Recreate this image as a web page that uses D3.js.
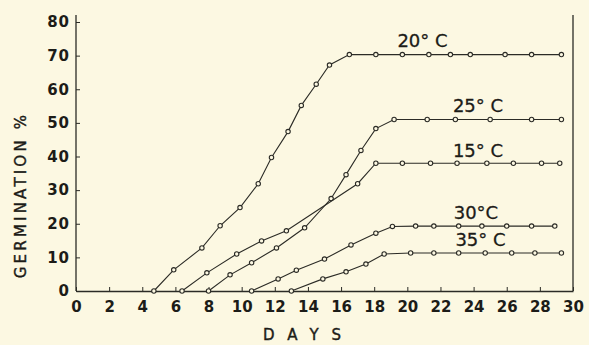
<!DOCTYPE html>
<html>
<head>
<meta charset="utf-8">
<script src="https://cdn.jsdelivr.net/npm/d3@7"></script>
<style>
  body { margin: 0; background: #fcf8e2; }
  svg { display: block; font-family: 'DejaVu Sans', sans-serif; }
</style>
</head>
<body>
<div id="chart"></div>
<script>
// Germination % against days, one series per temperature
const days20 = [4.7, 5.9, 7.6, 8.7, 9.9, 11.0, 11.8, 12.8, 13.6, 14.5, 15.3, 16.5, 18.1, 19.7, 21.3, 22.6, 23.8, 25.9, 27.5, 29.3];
const germ20 = [0, 6.3, 12.8, 19.4, 24.8, 31.9, 39.7, 47.4, 55.2, 61.5, 67.2, 70.3, 70.3, 70.3, 70.3, 70.3, 70.3, 70.3, 70.3, 70.3];

const days25 = [8.0, 9.3, 10.6, 12.1, 13.8, 15.4, 16.3, 17.2, 18.1, 19.2, 21.2, 22.9, 25.0, 27.5, 29.3];
const germ25 = [0, 4.8, 8.4, 12.8, 18.8, 27.5, 34.6, 41.8, 48.3, 51, 51, 51, 51, 51, 51];

const days15 = [6.4, 7.9, 9.7, 11.2, 12.7, 17.0, 18.1, 19.7, 21.4, 23.0, 24.8, 26.4, 28.1, 29.2];
const germ15 = [0, 5.4, 11, 14.9, 17.9, 31.9, 38, 38, 38, 38, 38, 38, 38, 38];

const days30 = [10.6, 12.2, 13.3, 15.0, 16.6, 18.1, 19.1, 20.5, 21.6, 23.1, 24.5, 26.0, 27.5, 28.9];
const germ30 = [0, 3.6, 6.2, 9.5, 13.7, 17.2, 19.2, 19.3, 19.3, 19.3, 19.3, 19.3, 19.3, 19.3];

const days35 = [13.0, 14.9, 16.3, 17.5, 18.6, 20.2, 21.6, 23.1, 24.7, 26.3, 27.7, 29.3];
const germ35 = [0, 3.6, 5.7, 8, 11, 11.3, 11.3, 11.3, 11.3, 11.3, 11.3, 11.3];

const seriesLabels = ['20° C', '25° C', '15° C', '30°C', '35° C'];
// day where each label starts, and the % at its baseline
const labelDay = [19.4, 22.75, 22.75, 22.8, 22.9];
const labelGerm = [72.6, 53.2, 39.9, 21.4, 13.4];

const xTicks = [0, 2, 4, 6, 8, 10, 12, 14, 16, 18, 20, 22, 24, 26, 28, 30];
const yTicks = [0, 10, 20, 30, 40, 50, 60, 70, 80];

const series = [
  { days: days20, germ: germ20 },
  { days: days25, germ: germ25 },
  { days: days15, germ: germ15 },
  { days: days30, germ: germ30 },
  { days: days35, germ: germ35 },
];

const width = 589;
const height = 345;
const ink = '#2b2b26';
const textInk = '#1c1c18';

const svg = d3
  .select('#chart')
  .append('svg')
  .attr('width', width)
  .attr('height', height);

const x = d3.scaleLinear().domain([0, 30]).range([76, 573]);
const y = d3.scaleLinear().domain([0, 80]).range([291, 22]);

// Frame: left axis, bottom axis, right edge
svg.append('line')
  .attr('x1', x(0)).attr('x2', x(0))
  .attr('y1', 15).attr('y2', y(0))
  .attr('stroke', ink).attr('stroke-width', 1.3);
svg.append('line')
  .attr('x1', x(30)).attr('x2', x(30))
  .attr('y1', 15).attr('y2', y(0))
  .attr('stroke', ink).attr('stroke-width', 1.3);

// Y axis
const yAxis = svg
  .append('g')
  .attr('transform', `translate(${x(0)},0)`)
  .call(d3.axisLeft(y).tickValues(yTicks).tickSizeInner(-4).tickSizeOuter(0).tickPadding(6));
yAxis.select('.domain').remove();
yAxis.selectAll('line').attr('stroke', ink);
yAxis.selectAll('text')
  .attr('font-size', 15)
  .attr('font-weight', 'bold')
  .attr('fill', textInk)
  .attr('font-family', 'DejaVu Sans, sans-serif')
  .style('letter-spacing', '1px');

// X axis
const xAxis = svg
  .append('g')
  .attr('transform', `translate(0,${y(0)})`)
  .call(d3.axisBottom(x).tickValues(xTicks).tickSizeInner(-4).tickSizeOuter(0).tickPadding(10));
xAxis.select('.domain').attr('stroke', ink).attr('stroke-width', 1.3);
xAxis.selectAll('line').attr('stroke', ink);
xAxis.selectAll('text')
  .attr('font-size', 15)
  .attr('font-weight', 'bold')
  .attr('fill', textInk)
  .attr('font-family', 'DejaVu Sans, sans-serif');

// Axis titles
svg.append('text')
  .attr('transform', 'translate(26,195) rotate(-90)')
  .attr('text-anchor', 'middle')
  .attr('font-size', 15)
  .attr('fill', textInk)
  .attr('stroke', textInk)
  .attr('stroke-width', 0.4)
  .style('letter-spacing', '3.2px')
  .text('GERMINATION %');

svg.append('text')
  .attr('x', 263)
  .attr('y', 340)
  .attr('font-size', 15)
  .attr('fill', textInk)
  .attr('stroke', textInk)
  .attr('stroke-width', 0.4)
  .style('letter-spacing', '13px')
  .text('DAYS');

// Lines
const line = d3
  .line()
  .x((d) => x(d[0]))
  .y((d) => y(d[1]));

series.forEach((s) => {
  const pts = s.days.map((d, i) => [d, s.germ[i]]);
  svg.append('path')
    .datum(pts)
    .attr('d', line)
    .attr('fill', 'none')
    .attr('stroke', ink)
    .attr('stroke-width', 1.1);

  svg.selectAll(null)
    .data(pts)
    .enter()
    .append('circle')
    .attr('cx', (d) => x(d[0]))
    .attr('cy', (d) => y(d[1]))
    .attr('r', 2.2)
    .attr('fill', '#fcf8e2')
    .attr('stroke', ink)
    .attr('stroke-width', 1.1);
});

// Series labels
svg.selectAll('.series-label')
  .data(seriesLabels)
  .enter()
  .append('text')
  .attr('class', 'series-label')
  .attr('x', (d, i) => x(labelDay[i]))
  .attr('y', (d, i) => y(labelGerm[i]))
  .attr('font-size', 18)
  .attr('fill', textInk)
  .attr('stroke', textInk)
  .attr('stroke-width', 0.3)
  .text((d) => d);
</script>
</body>
</html>
